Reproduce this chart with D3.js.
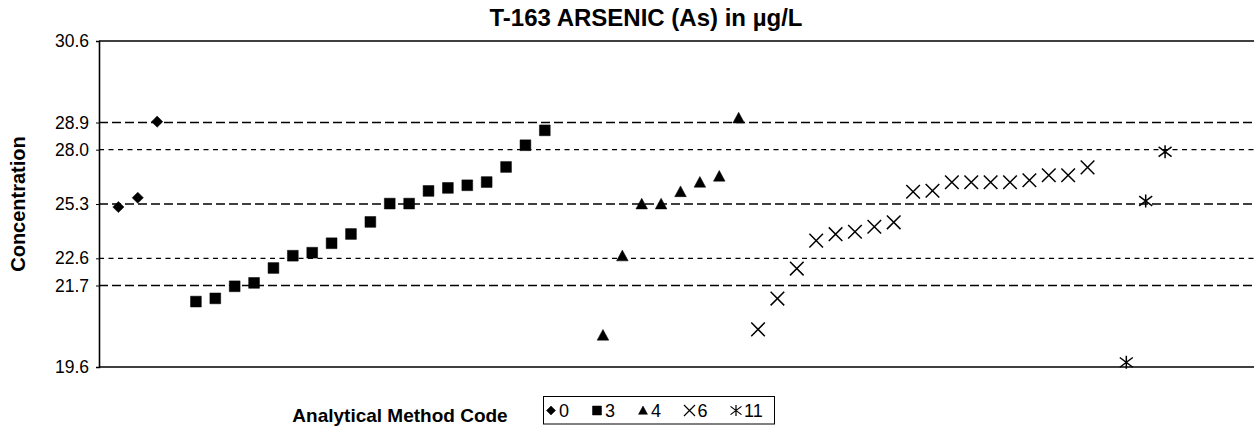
<!DOCTYPE html>
<html>
<head>
<meta charset="utf-8">
<script src="https://cdn.jsdelivr.net/npm/d3@7"></script>
<style>
  html, body { margin: 0; padding: 0; background: #fff; }
  svg { display: block; font-family: "Liberation Sans", Arial, sans-serif; }
</style>
</head>
<body>
<svg id="chart" width="1254" height="432"></svg>
<script>
// ---- Data ----
const methodCodes = ["0", "3", "4", "6", "11"];
// first category slot of each method group along the x axis
const groupStartSlot = [1, 5, 26, 34, 53];

const code0 = [25.15, 25.61, 29.39];
const code3 = [20.45, 20.61, 21.21, 21.38, 22.12, 22.73, 22.88, 23.35, 23.81, 24.41,
               25.32, 25.32, 25.95, 26.10, 26.23, 26.39, 27.14, 28.22, 28.96];
const code4 = [18.78, 22.72, 25.30, 25.30, 25.91, 26.38, 26.68, 29.57];
const code6 = [19.07, 20.60, 22.09, 23.48, 23.80, 23.92, 24.17, 24.39, 25.91, 25.96,
               26.38, 26.38, 26.38, 26.38, 26.48, 26.73, 26.73, 27.12];
const code11 = [17.43, 25.45, 27.90];
const seriesValues = [code0, code3, code4, code6, code11];

// y axis: tick positions (in the plotted scale) and their printed labels
const yTickValues = [17.2, 21.25, 22.6, 25.3, 28.0, 29.35, 33.4];
const yTickLabels = ["19.6", "21.7", "22.6", "25.3", "28.0", "28.9", "30.6"];
// horizontal reference lines
const refLines = [29.35, 28.0, 25.3, 22.6, 21.25];
const refKinds = ["long", "short", "long", "short", "long"];

const titleText = "T-163 ARSENIC (As) in \u00b5g/L";
const yTitle = "Concentration";
const xTitle = "Analytical Method Code";

// ---- Layout ----
const svg = d3.select("#chart");
const plot = { left: 99, top: 41, bottom: 367, right: 1262 };
const slotCount = 60;

const x = d3.scaleLinear().domain([0, slotCount]).range([plot.left, plot.right]);
const y = d3.scaleLinear().domain([17.2, 33.4]).range([plot.bottom, plot.top]);

// marker shapes
function markerPath(kind, r) {
  const p = d3.path();
  if (kind === 0) { // diamond
    p.moveTo(0, -r); p.lineTo(r, 0); p.lineTo(0, r); p.lineTo(-r, 0); p.closePath();
  } else if (kind === 1) { // square
    p.rect(-r, -r, 2 * r, 2 * r);
  } else if (kind === 2) { // triangle
    p.moveTo(0, -r); p.lineTo(r, r * 0.85); p.lineTo(-r, r * 0.85); p.closePath();
  } else if (kind === 3) { // x
    p.moveTo(-r, -r); p.lineTo(r, r); p.moveTo(r, -r); p.lineTo(-r, r);
  } else { // asterisk
    p.moveTo(-r, -r * 0.75); p.lineTo(r, r * 0.75); p.moveTo(r, -r * 0.75); p.lineTo(-r, r * 0.75);
    p.moveTo(0, -r); p.lineTo(0, r);
  }
  return p.toString();
}
const markerSize = [5.6, 5.4, 5.8, 6.8, 6.5];
const filled = [true, true, true, false, false];

// reference lines
svg.append("g").selectAll("line").data(refLines).join("line")
  .attr("x1", plot.left).attr("x2", plot.right)
  .attr("y1", d => y(d)).attr("y2", d => y(d))
  .attr("stroke", "#000")
  .attr("stroke-width", (d, i) => refKinds[i] === "long" ? 1.6 : 1.1)
  .attr("stroke-dasharray", (d, i) => refKinds[i] === "long" ? "9,4" : "5,4.5");

// frame lines (top & bottom)
svg.append("line").attr("x1", plot.left).attr("x2", plot.right)
  .attr("y1", plot.top).attr("y2", plot.top).attr("stroke", "#000").attr("stroke-width", 1.6);
svg.append("line").attr("x1", plot.left).attr("x2", plot.right)
  .attr("y1", plot.bottom).attr("y2", plot.bottom).attr("stroke", "#000").attr("stroke-width", 1.6);

// y axis
const yAxis = d3.axisLeft(y).tickValues(yTickValues)
  .tickFormat((d, i) => yTickLabels[i]).tickSize(3).tickPadding(7);
const gy = svg.append("g").attr("transform", `translate(${plot.left},0)`).call(yAxis);
gy.select(".domain").attr("stroke", "#000").attr("stroke-width", 1.6);
gy.selectAll("text").attr("font-size", 17.5).attr("fill", "#000")
  .attr("font-family", "'Liberation Sans', Arial, sans-serif");

// points
seriesValues.forEach((vals, si) => {
  svg.append("g").selectAll("path").data(vals).join("path")
    .attr("transform", (d, i) => `translate(${x(groupStartSlot[si] + i)},${y(d)})`)
    .attr("d", markerPath(si, markerSize[si]))
    .attr("fill", filled[si] ? "#000" : "none")
    .attr("stroke", "#000")
    .attr("stroke-width", filled[si] ? 0.5 : 1.5);
});

// title
svg.append("text").attr("x", 646).attr("y", 26).attr("text-anchor", "middle")
  .attr("font-size", 24).attr("font-weight", "bold").text(titleText);

// y title
svg.append("text").attr("transform", "translate(25,204) rotate(-90)")
  .attr("text-anchor", "middle").attr("font-size", 20).attr("font-weight", "bold").text(yTitle);

// x title
svg.append("text").attr("x", 400).attr("y", 422).attr("text-anchor", "middle")
  .attr("font-size", 19).attr("font-weight", "bold").text(xTitle);

// legend
const legend = svg.append("g");
legend.append("rect").attr("x", 543.5).attr("y", 396.5).attr("width", 231).attr("height", 27.5)
  .attr("fill", "#fff").attr("stroke", "#000").attr("stroke-width", 1);
const legendX = [551, 597, 643, 689.5, 736];
methodCodes.forEach((c, i) => {
  legend.append("path")
    .attr("transform", `translate(${legendX[i]},410.5)`)
    .attr("d", markerPath(i, i < 3 ? 4.5 : 5.5))
    .attr("fill", filled[i] ? "#000" : "none")
    .attr("stroke", "#000").attr("stroke-width", filled[i] ? 0.5 : 1.2);
  legend.append("text").attr("x", legendX[i] + 8).attr("y", 417)
    .attr("font-size", 18).text(c);
});
</script>
</body>
</html>
